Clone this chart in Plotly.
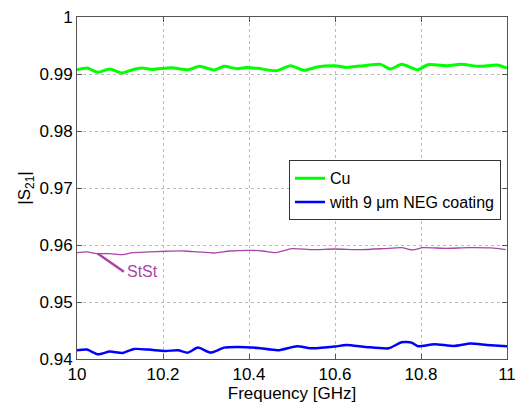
import plotly.graph_objects as go

# Transmission |S21| vs frequency for three beam-pipe samples
cu_freq = [10.000, 10.023, 10.049, 10.076, 10.106, 10.129, 10.152, 10.175, 10.220, 10.258,
           10.285, 10.319, 10.342, 10.372, 10.395, 10.421, 10.463, 10.497, 10.528, 10.558,
           10.600, 10.626, 10.672, 10.706, 10.729, 10.755, 10.793, 10.816, 10.862, 10.892,
           10.938, 10.976, 11.000]
cu_s21 = [0.99076, 0.99105, 0.99030, 0.99087, 0.99017, 0.99076, 0.99105, 0.99080, 0.99110, 0.99076,
          0.99134, 0.99070, 0.99134, 0.99093, 0.99116, 0.99099, 0.99058, 0.99145, 0.99064, 0.99122,
          0.99145, 0.99116, 0.99151, 0.99169, 0.99087, 0.99169, 0.99076, 0.99163, 0.99145, 0.99169,
          0.99134, 0.99157, 0.99105]

neg_freq = [10.000, 10.023, 10.049, 10.076, 10.106, 10.133, 10.167, 10.205, 10.235, 10.258,
            10.281, 10.311, 10.342, 10.372, 10.421, 10.467, 10.512, 10.543, 10.600, 10.626,
            10.672, 10.725, 10.755, 10.778, 10.793, 10.831, 10.877, 10.915, 10.953, 11.000]
neg_s21 = [0.94153, 0.94165, 0.94082, 0.94130, 0.94106, 0.94176, 0.94165, 0.94141, 0.94153, 0.94112,
           0.94200, 0.94112, 0.94200, 0.94212, 0.94194, 0.94153, 0.94224, 0.94188, 0.94218, 0.94247,
           0.94212, 0.94188, 0.94294, 0.94288, 0.94224, 0.94259, 0.94229, 0.94270, 0.94247, 0.94224]

stst_freq = [10.000, 10.023, 10.046, 10.076, 10.106, 10.129, 10.167, 10.205, 10.250, 10.281,
             10.318, 10.356, 10.402, 10.432, 10.462, 10.500, 10.546, 10.599, 10.660, 10.713,
             10.755, 10.781, 10.804, 10.857, 10.910, 10.963, 10.997]
stst_s21 = [0.95866, 0.95878, 0.95849, 0.95849, 0.95831, 0.95866, 0.95878, 0.95890, 0.95895, 0.95878,
            0.95860, 0.95895, 0.95907, 0.95895, 0.95866, 0.95936, 0.95919, 0.95930, 0.95919, 0.95936,
            0.95953, 0.95913, 0.95953, 0.95942, 0.95953, 0.95948, 0.95919]

x_ticks = [10, 10.2, 10.4, 10.6, 10.8, 11]
x_tick_text = ["10", "10.2", "10.4", "10.6", "10.8", "11"]
y_ticks = [0.94, 0.95, 0.96, 0.97, 0.98, 0.99, 1.0]
y_tick_text = ["0.94", "0.95", "0.96", "0.97", "0.98", "0.99", "1"]

GREEN = "#00FF00"
BLUE = "#0000FF"
PURPLE = "#A845A8"
FONT = "Liberation Sans, Arial, sans-serif"

fig = go.Figure()
fig.add_trace(go.Scatter(x=cu_freq, y=cu_s21, mode="lines", name="Cu",
                         line=dict(color=GREEN, width=3, shape="spline", smoothing=0.6)))
fig.add_trace(go.Scatter(x=neg_freq, y=neg_s21, mode="lines", name="with 9 \u03bcm NEG coating",
                         line=dict(color=BLUE, width=2.5, shape="spline", smoothing=0.6)))
fig.add_trace(go.Scatter(x=stst_freq, y=stst_s21, mode="lines", name="StSt", showlegend=False,
                         line=dict(color=PURPLE, width=1.3, shape="spline", smoothing=0.6)))

# pointer line and label for the stainless-steel curve
fig.add_shape(type="line", x0=10.048, y0=0.9585, x1=10.109, y1=0.9553,
              xref="x", yref="y", line=dict(color=PURPLE, width=2.5))
fig.add_annotation(x=10.112, y=0.9553, xref="x", yref="y", text="StSt", showarrow=False,
                   xanchor="left", yanchor="middle", font=dict(family=FONT, size=16, color=PURPLE))

axis_common = dict(showline=True, linecolor="#555555", linewidth=1, mirror="ticks",
                   ticks="inside", ticklen=5, tickcolor="#555555",
                   showgrid=True, gridcolor="#BBBBBB", griddash="dot", gridwidth=1,
                   zeroline=False, tickfont=dict(family=FONT, size=17, color="black"))

fig.update_xaxes(range=[10, 11], tickvals=x_ticks, ticktext=x_tick_text,
                 title=dict(text="Frequency [GHz]", font=dict(family=FONT, size=17, color="black"),
                            standoff=2), **axis_common)
fig.update_yaxes(range=[0.94, 1.0], tickvals=y_ticks, ticktext=y_tick_text,
                 title=dict(text="|S<sub>21</sub>|", font=dict(family=FONT, size=17, color="black"),
                            standoff=4), **axis_common)

fig.update_layout(
    width=524, height=408,
    margin=dict(l=77, r=8, t=13, b=49),
    plot_bgcolor="white", paper_bgcolor="white",
    font=dict(family=FONT, size=16, color="black"),
    legend=dict(x=0.986, y=0.581, xanchor="right", yanchor="top",
                bgcolor="white", bordercolor="#333333", borderwidth=1,
                font=dict(family=FONT, size=16, color="black"),
                tracegroupgap=0, itemwidth=30),
)

fig.write_html("out.html")
